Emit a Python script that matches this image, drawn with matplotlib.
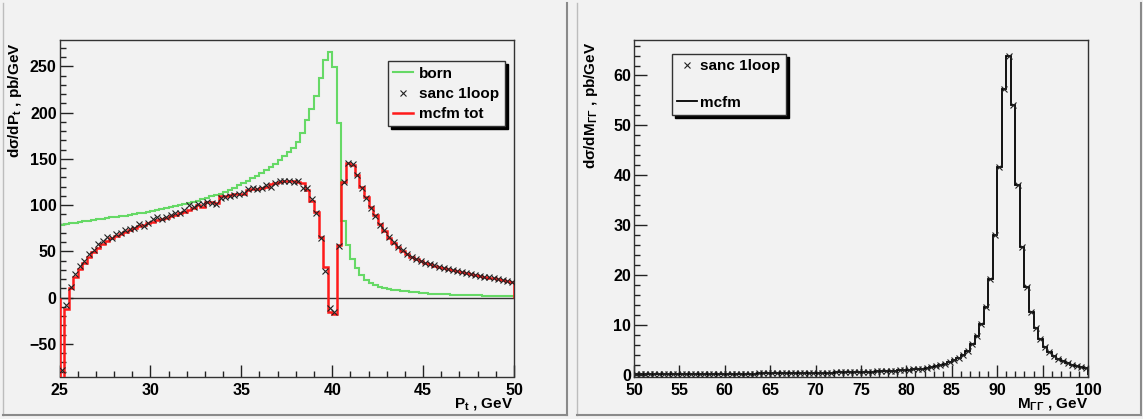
import numpy as np
import matplotlib
matplotlib.use("Agg")
import matplotlib.pyplot as plt
from matplotlib.lines import Line2D
from matplotlib.ticker import MultipleLocator

# ---------------- data: transverse momentum spectrum ----------------
pt_lo, pt_hi, pt_nbins = 25.0, 50.0, 100

born_pt = [
    79, 79.7, 80.4, 81.1, 81.8, 82.5, 83.2, 83.9, 84.6, 85.3,
    86, 86.7, 87.4, 88.1, 88.8, 89.5, 90.3, 91.1, 91.9, 92.8,
    94, 95, 96, 97, 98, 99, 100, 101, 102, 103.5,
    105, 106.5, 108, 109.5, 111, 112.5, 114.5, 116.5, 119, 121.5,
    124, 126, 129, 132, 135, 138, 141.5, 145, 149, 153,
    157, 162, 168, 178, 192, 204, 218, 237, 257, 266,
    249, 189, 83, 57, 42, 32, 25, 19.5, 15.7, 13.2,
    11.8, 10.6, 9.6, 8.8, 8.0, 7.3, 6.7, 6.1, 5.6, 5.2,
    4.8, 4.5, 4.2, 3.9, 3.7, 3.5, 3.3, 3.1, 2.9, 2.8,
    2.6, 2.5, 2.4, 2.2, 2.1, 2.0, 1.9, 1.8, 1.7, 1.6,
]

mcfm_tot_pt = [
    -95, -12, 10, 22, 31, 38, 44, 49, 54, 58,
    61, 64, 66.5, 69, 71, 73, 75, 77, 79, 81,
    82, 83.5, 85, 86.5, 88, 89.5, 91, 93, 95, 97,
    100, 98, 103, 103, 102, 110, 110, 111, 112, 112,
    112.5, 116, 118, 118, 119, 120, 123, 124, 125.5, 126,
    126, 126, 125, 124, 116, 105, 93, 66, 33, -15,
    -18, 57, 125, 146, 143, 133, 120, 109, 98, 89,
    80, 72, 65, 59.6, 55, 50.5, 47, 44, 41.5, 39.5,
    37.5, 36, 34.5, 33, 32, 31, 29.8, 28.5, 27.3, 26.3,
    25.3, 24.3, 23.5, 22.6, 21.7, 20.8, 19.8, 18.8, 17.8, 16.8,
]

sanc_1loop_pt = [
    -78, -8, 12, 26, 34, 40, 47, 51, 58, 61,
    66, 64, 69, 70, 73, 74, 75, 80, 78, 81,
    85, 87, 85, 87, 89, 91, 92, 95, 100, 98,
    101, 101, 103, 102, 101, 108, 109, 110, 111, 112,
    113, 117, 119, 118, 119, 122, 120, 124, 126, 126,
    126, 125, 126, 119, 119, 107, 92, 64, 29, -11,
    -16, 56, 125, 146, 144, 133, 119, 108, 97, 88,
    79, 73, 66, 60, 55, 51, 47, 44, 42, 39.5,
    37.5, 36, 35, 33, 32, 31, 30, 28.5, 27.5, 26.5,
    25.5, 24.5, 23.5, 22.5, 22, 21, 20, 19, 18, 17,
]

# ---------------- data: lepton-pair invariant mass ----------------
m_lo, m_hi, m_nbins = 50.0, 100.0, 100

mcfm_mll = [
    0.14, 0.14, 0.15, 0.15, 0.16, 0.16, 0.17, 0.17, 0.18, 0.18,
    0.19, 0.19, 0.20, 0.20, 0.21, 0.22, 0.22, 0.23, 0.24, 0.24,
    0.25, 0.26, 0.27, 0.27, 0.28, 0.29, 0.30, 0.31, 0.32, 0.33,
    0.34, 0.35, 0.36, 0.37, 0.38, 0.39, 0.40, 0.42, 0.43, 0.44,
    0.46, 0.47, 0.49, 0.50, 0.52, 0.54, 0.56, 0.58, 0.60, 0.62,
    0.65, 0.67, 0.70, 0.73, 0.76, 0.80, 0.84, 0.88, 0.93, 0.99,
    1.05, 1.12, 1.20, 1.30, 1.42, 1.57, 1.76, 1.98, 2.25, 2.55,
    2.95, 3.40, 4.00, 4.90, 6.3, 7.9, 10.2, 13.7, 19.2, 28.1,
    41.6, 57.3, 64.0, 54.0, 38.1, 25.7, 17.7, 12.7, 9.4, 7.2,
    5.7, 4.6, 3.8, 3.2, 2.75, 2.4, 2.1, 1.85, 1.65, 1.45,
]
sanc_1loop_mll = list(mcfm_mll)

# ---------------- style ----------------
BG = "#f2f2f2"
GREEN = "#66d966"
RED = "#ff1a1a"
plt.rcParams.update({
    "font.family": ["Liberation Sans", "DejaVu Sans"],
    "font.weight": "bold",
    "font.size": 11,
    "mathtext.fontset": "custom",
    "mathtext.rm": "Liberation Sans:bold",
    "mathtext.it": "Liberation Sans:bold",
    "mathtext.bf": "Liberation Sans:bold",
    "mathtext.default": "rm",
})

W, H = 1143, 419
fig = plt.figure(figsize=(W / 100, H / 100), dpi=100, facecolor=BG)


def px_axes(x0, x1, y0, y1):
    return fig.add_axes([x0 / W, 1 - y1 / H, (x1 - x0) / W, (y1 - y0) / H])


def style_axes(ax, xmaj, xmin, ymaj, ymin):
    ax.set_facecolor(BG)
    for s in ax.spines.values():
        s.set_color("#333333")
        s.set_linewidth(1.0)
    ax.xaxis.set_major_locator(MultipleLocator(xmaj))
    ax.xaxis.set_minor_locator(MultipleLocator(xmin))
    ax.yaxis.set_major_locator(MultipleLocator(ymaj))
    ax.yaxis.set_minor_locator(MultipleLocator(ymin))
    ax.tick_params(which="both", direction="in", top=False, right=False,
                   color="#222222", width=1.0, labelsize=11.5)
    ax.tick_params(which="major", length=9)
    ax.tick_params(which="minor", length=4.5)
    ax.tick_params(axis="x", pad=4.5)
    ax.tick_params(axis="y", pad=2)
    for lab in ax.get_xticklabels() + ax.get_yticklabels():
        lab.set_fontweight("bold")


def add_legend(ax, handles, labels, anchor, spacing, pad, textpad):
    leg = ax.legend(handles, labels, loc="upper left", bbox_to_anchor=anchor,
                    borderaxespad=0, frameon=True, fancybox=False,
                    shadow={"color": "black", "alpha": 1},
                    prop={"weight": "bold", "size": 11}, handlelength=1.3,
                    handletextpad=textpad, labelspacing=spacing, borderpad=pad)
    fr = leg.get_frame()
    fr.set_edgecolor("#333333")
    fr.set_facecolor(BG)
    fr.set_linewidth(1.0)
    return leg


# pad borders
fig.add_artist(Line2D([3 / W, 3 / W], [4 / H, 1 - 3 / H], color="#bdbdbd", lw=1))
fig.add_artist(Line2D([567 / W, 567 / W], [4 / H, 1 - 3 / H], color="#8a8a8a", lw=1.5))
fig.add_artist(Line2D([577 / W, 577 / W], [4 / H, 1 - 3 / H], color="#bdbdbd", lw=1))
fig.add_artist(Line2D([3 / W, 567 / W], [4 / H, 4 / H], color="#8a8a8a", lw=1.5))
fig.add_artist(Line2D([577 / W, 1141 / W], [4 / H, 4 / H], color="#8a8a8a", lw=1.5))
fig.add_artist(Line2D([1141 / W, 1141 / W], [4 / H, 1 - 3 / H], color="#8a8a8a", lw=1.5))

# ---------------- left panel: dsigma/dPt ----------------
ax1 = px_axes(59.5, 514, 40.3, 376.5)
pt_edges = np.linspace(pt_lo, pt_hi, pt_nbins + 1)
pt_cent = 0.5 * (pt_edges[:-1] + pt_edges[1:])

ax1.axhline(0, color="#333333", lw=1.0, zorder=1)
ax1.stairs(born_pt, pt_edges, color=GREEN, lw=1.5, zorder=2)
ax1.stairs(mcfm_tot_pt, pt_edges, color=RED, lw=1.8, zorder=3)
ax1.plot(pt_cent, sanc_1loop_pt, ls="none", marker="x", ms=5, mew=0.8,
         color="#222222", zorder=4)

ax1.set_xlim(pt_lo, pt_hi)
ax1.set_ylim(-85.2, 278.2)
style_axes(ax1, 5, 1, 50, 10)

fig.text(15.5 / W, 1 - 42 / H, r"d$\sigma$/dP$_{t}$ , pb/GeV", rotation=90,
         ha="center", va="top", fontsize=11, fontweight="bold")
fig.text(513 / W, 1 - 404 / H, r"P$_{t}$ , GeV", ha="right", va="center",
         fontsize=11, fontweight="bold")

h_born = Line2D([], [], color=GREEN, lw=1.5)
h_sanc = Line2D([], [], ls="none", marker="x", ms=5, mew=0.8, color="#222222")
h_mcfm = Line2D([], [], color=RED, lw=1.8)
add_legend(ax1, [h_born, h_sanc, h_mcfm], ["born", "sanc 1loop", "mcfm tot"],
           (0.723, 0.937), 0.4, 0.35, 0.4)

# ---------------- right panel: dsigma/dM ----------------
ax2 = px_axes(634, 1088, 40.3, 376.5)
m_edges = np.linspace(m_lo, m_hi, m_nbins + 1)
m_cent = 0.5 * (m_edges[:-1] + m_edges[1:])

ax2.stairs(mcfm_mll, m_edges, color="black", lw=1.3, zorder=2)
ax2.plot(m_cent, sanc_1loop_mll, ls="none", marker="x", ms=5, mew=0.8,
         color="#222222", zorder=3)
ax2.set_xlim(m_lo, m_hi)
ax2.set_ylim(-0.3, 67.05)
style_axes(ax2, 5, 1, 10, 2)

fig.text(591 / W, 1 - 42 / H, "d$\\sigma$/dM$_{ΓΓ}$ , pb/GeV", rotation=90,
         ha="center", va="top", fontsize=11, fontweight="bold")
fig.text(1088 / W, 1 - 404 / H, "M$_{ΓΓ}$ , GeV", ha="right", va="center",
         fontsize=11, fontweight="bold")

h_sanc2 = Line2D([], [], ls="none", marker="x", ms=5, mew=0.8, color="#222222")
h_mcfm2 = Line2D([], [], color="black", lw=1.3)
add_legend(ax2, [h_sanc2, h_mcfm2], ["sanc 1loop", "mcfm"],
           (0.084, 0.959), 1.45, 0.35, 0.2)

fig.savefig("out.png", dpi=100, facecolor=BG)
